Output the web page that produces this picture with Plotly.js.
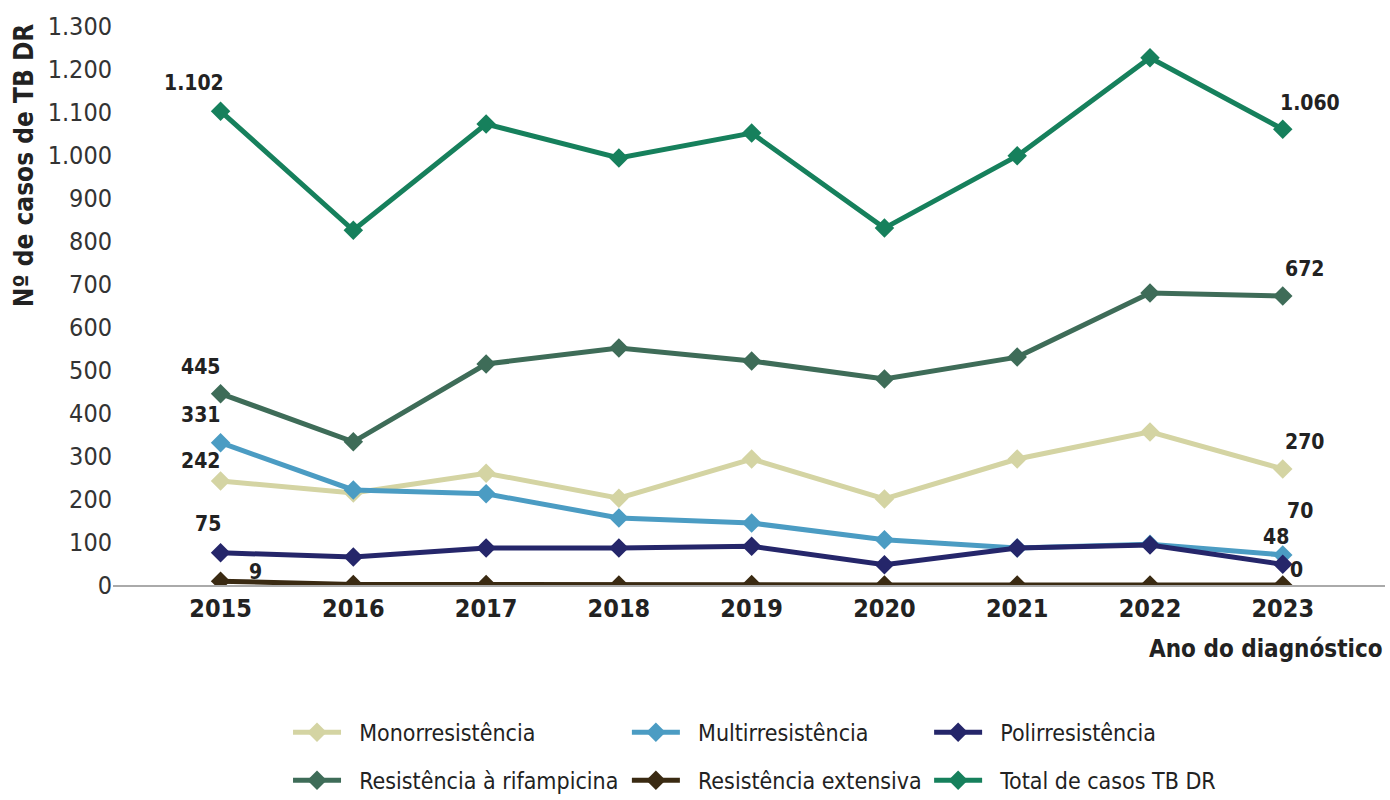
<!DOCTYPE html>
<html><head><meta charset="utf-8">
<script src="https://cdn.plot.ly/plotly-3.0.1.min.js"></script>
<style>body{margin:0;background:#fff}#chart{width:1390px;height:800px}</style>
</head><body><div id="chart"></div>
<script>
const years = [2015, 2016, 2017, 2018, 2019, 2020, 2021, 2022, 2023];
const mono = [242, 214, 260, 202, 293, 200, 293, 356, 270];
const multi = [331, 221, 212, 156, 144, 105, 86, 95, 70];
const poli = [75, 65, 86, 86, 90, 47, 86, 93, 48];
const rifamp = [445, 333, 514, 551, 521, 479, 530, 679, 672];
const extensiva = [9, 1, 1, 0, 1, 0, 0, 0, 0];
const total = [1102, 825, 1072, 993, 1051, 830, 998, 1226, 1060];
const seriesNames = ['Monorresistência', 'Multirresistência', 'Polirresistência', 'Resistência à rifampicina', 'Resistência extensiva', 'Total de casos TB DR'];
const yTicks = [0,100,200,300,400,500,600,700,800,900,1000,1100,1200,1300];

const FONT = 'Liberation Sans Narrow, DejaVu Sans Condensed, Arial Narrow, Liberation Sans, sans-serif';
const colors = ['#d4d4a3', '#4b9cc3', '#25266a', '#3e6c58', '#3a2a12', '#16805c'];
const data = [mono, multi, poli, rifamp, extensiva, total];
const legendIds = ['legend', 'legend2', 'legend3', 'legend', 'legend2', 'legend3'];

function fmt(v){ return String(v).replace(/\B(?=(\d{3})+(?!\d))/g, '.'); }

const traces = data.map((d, i) => ({
  type: 'scatter', mode: 'lines+markers', x: years, y: d, name: '\u00a0\u00a0' + seriesNames[i],
  line: {color: colors[i], width: 5},
  marker: {symbol: 'diamond', size: 15, color: colors[i]},
  legend: legendIds[i], legendgroup: 'g' + i, cliponaxis: true
}));

// data labels: [series values, index, xshift, yshift]
const labelSpecs = [
  [total, 0, -27, 28], [total, 8, 27, 26],
  [rifamp, 0, -20, 27], [rifamp, 8, 22, 27],
  [multi, 0, -20, 28], [mono, 0, -20, 20], [mono, 8, 22, 27],
  [poli, 0, -13, 29], [extensiva, 0, 35, 9],
  [multi, 8, 17, 44], [poli, 8, -7, 27], [extensiva, 8, 14, 15]
];
const annotations = labelSpecs.map(([arr, idx, xs, ys]) => ({
  x: years[idx], y: arr[idx], xref: 'x', yref: 'y', text: fmt(arr[idx]),
  showarrow: false, xshift: xs, yshift: ys,
  font: {family: FONT, size: 21, color: '#222', weight: 'bold'}
}));
annotations.push({
  xref: 'paper', yref: 'paper', x: -0.07, y: 0.751, xanchor: 'center', yanchor: 'middle',
  text: 'Nº de casos de TB DR', textangle: -90, showarrow: false,
  font: {family: FONT, size: 26, color: '#222', weight: 'bold'}
});
annotations.push({
  xref: 'paper', yref: 'paper', x: 1, y: -0.115, xanchor: 'right', yanchor: 'middle',
  text: 'Ano do diagnóstico', showarrow: false,
  font: {family: FONT, size: 24, color: '#222', weight: 'bold'}
});

const legendBase = {
  orientation: 'v', xanchor: 'left', yanchor: 'top', yref: 'container', y: 0.1115,
  font: {family: FONT, size: 23, color: '#222'}, itemwidth: 48, tracegroupgap: 15,
  bgcolor: 'rgba(0,0,0,0)'
};

const layout = {
  width: 1390, height: 800,
  paper_bgcolor: '#fff', plot_bgcolor: '#fff',
  margin: {l: 113, r: 5, t: 26, b: 215},
  separators: ',.',
  showlegend: true,
  xaxis: {
    range: [2014.19, 2023.77], tickvals: years, ticktext: years.map(String),
    showgrid: false, zeroline: false, showline: true, linecolor: '#aaa', linewidth: 1.5,
    ticks: '', tickfont: {family: FONT, size: 25, color: '#222', weight: 'bold'}
  },
  yaxis: {
    range: [0, 1300], tickvals: yTicks, tickformat: ',d',
    showgrid: false, zeroline: false, showline: false, ticks: '',
    tickfont: {family: FONT, size: 25, color: '#333'}
  },
  legend: Object.assign({}, legendBase, {x: 0.1376}),
  legend2: Object.assign({}, legendBase, {x: 0.404}),
  legend3: Object.assign({}, legendBase, {x: 0.6416}),
  annotations: annotations
};

Plotly.newPlot('chart', traces, layout, {displayModeBar: false, staticPlot: true});
</script></body></html>
